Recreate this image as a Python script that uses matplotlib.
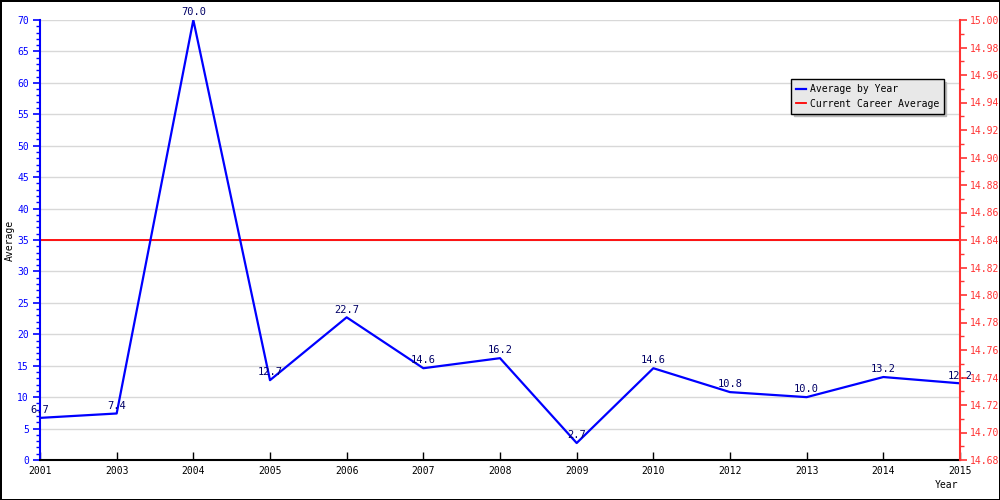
import numpy as np
import matplotlib
matplotlib.use('Agg')
import matplotlib.pyplot as plt
from matplotlib.ticker import MultipleLocator

plt.rcParams['font.family'] = 'DejaVu Sans Mono'
plt.rcParams['font.size'] = 7

years = ['2001', '2003', '2004', '2005', '2006', '2007', '2008',
         '2009', '2010', '2012', '2013', '2014', '2015']
averages = [6.7, 7.4, 70.0, 12.7, 22.7, 14.6, 16.2, 2.7, 14.6, 10.8, 10.0, 13.2, 12.2]
career_avg = 35.0

fig = plt.figure(figsize=(10, 5), dpi=100)
fig.patch.set_edgecolor('black')
fig.patch.set_linewidth(2)
ax = fig.add_axes([0.04, 0.08, 0.92, 0.88])

x = np.arange(len(years))
ax.plot(x, averages, color='#0000ff', lw=1.6, label='Average by Year', zorder=3)
ax.axhline(career_avg, color='#ff0000', lw=1.3, label='Current Career Average', zorder=2)
for xi, v in zip(x, averages):
    ax.annotate('%.1f' % v, (xi, v), xytext=(0, 2), textcoords='offset points',
                ha='center', va='bottom', color='#000066', fontsize=7.5)

ax.set_xlim(0, len(years) - 1)
ax.set_ylim(0, 70)
ax.set_xticks(x)
ax.set_xticklabels(years)
ax.yaxis.set_major_locator(MultipleLocator(5))
ax.yaxis.set_minor_locator(MultipleLocator(1))
ax.grid(axis='y', color='#d8d8d8', lw=1)
ax.set_axisbelow(True)

for s in ['top', 'right']:
    ax.spines[s].set_visible(False)
ax.spines['left'].set_color('#0000ff')
ax.spines['left'].set_linewidth(1.5)
ax.spines['bottom'].set_linewidth(1.5)
ax.tick_params(axis='y', colors='#0000ff', direction='out', length=5, width=1.2, pad=3)
ax.tick_params(axis='y', which='minor', colors='#0000ff', length=3, width=1)
ax.tick_params(axis='x', direction='in', length=6, width=1, pad=4)
ax.set_ylabel('Average', color='black', labelpad=2)
fig.text(0.958, 0.03, 'Year', ha='right', va='center')

ax2 = ax.twinx()
ax2.set_ylim(14.68, 15.00)
ax2.yaxis.set_major_locator(MultipleLocator(0.02))
ax2.yaxis.set_minor_locator(MultipleLocator(0.01))
ax2.yaxis.set_major_formatter(plt.FormatStrFormatter('%.2f'))
for s in ['top', 'left', 'bottom']:
    ax2.spines[s].set_visible(False)
ax2.spines['right'].set_color('#ff3333')
ax2.spines['right'].set_linewidth(1.5)
ax2.tick_params(axis='y', colors='#ff3333', direction='out', length=5, width=1.2,
                labelsize=7, pad=2)
ax2.tick_params(axis='y', which='minor', colors='#ff3333', length=3, width=1)

leg = ax.legend(loc='upper right', bbox_to_anchor=(0.9875, 0.876), fancybox=False,
                shadow={'color': '#bbbbbb', 'alpha': 1}, framealpha=1,
                edgecolor='black', facecolor='#e8e8e8', handlelength=1,
                handletextpad=0.4, borderpad=0.5, labelspacing=0.45)
leg.get_frame().set_linewidth(1)

fig.savefig('out.png', dpi=100, edgecolor=fig.get_edgecolor())
